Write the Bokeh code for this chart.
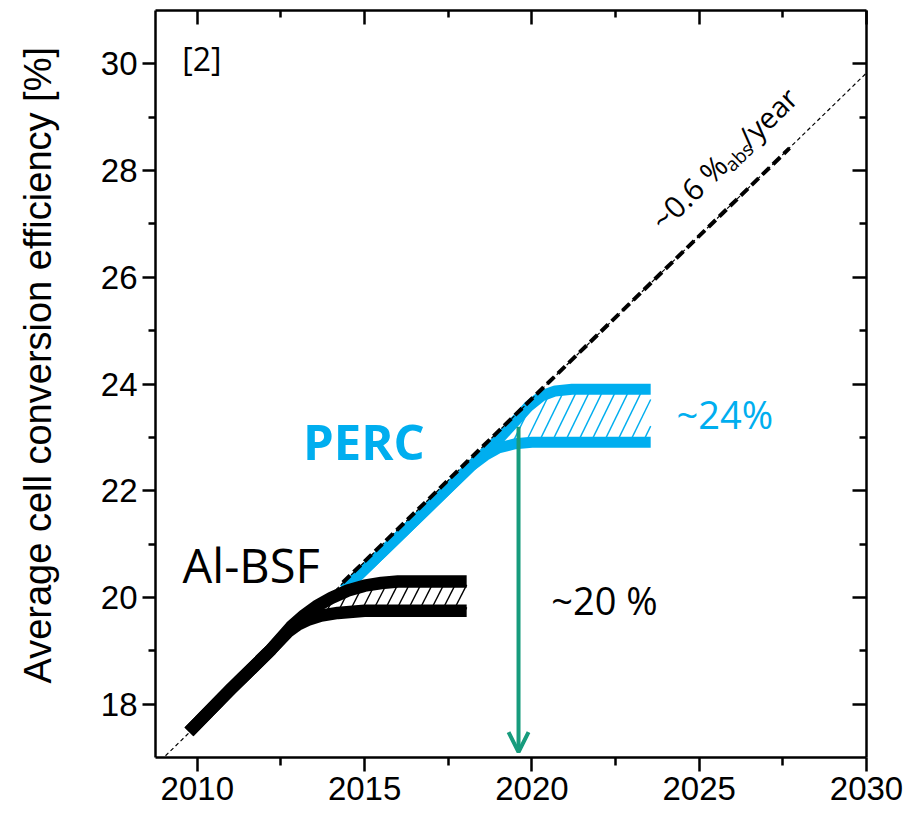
import numpy as np
from bokeh.plotting import figure
from bokeh.models import Range1d, FixedTicker, LinearAxis, Label, Arrow, OpenHead, Title
from bokeh.embed import file_html
from bokeh.resources import INLINE

# ---------------- data ----------------
x_ticks = [2010, 2015, 2020, 2025, 2030]
x_minor = [2012.5, 2017.5, 2022.5, 2027.5]
y_ticks = [18, 20, 22, 24, 26, 28, 30]
y_minor = [19, 21, 23, 25, 27, 29]

trend_years = [2008.75, 2030.0]
trend_values = [16.85, 29.83]
trend_bold_years = [2014.35, 2027.7]
trend_bold_values = [20.28, 28.42]

bsf_upper_years = [2009.75, 2011.0, 2012.2, 2012.8, 2013.2, 2013.6, 2014.0, 2014.5, 2015.0, 2015.5, 2016.0, 2018.05]
bsf_upper_values = [17.48, 18.28, 19.02, 19.45, 19.67, 19.85, 19.99, 20.13, 20.22, 20.27, 20.30, 20.30]
bsf_lower_years = [2009.75, 2011.0, 2012.2, 2012.7, 2013.0, 2013.3, 2013.7, 2014.2, 2015.0, 2018.05]
bsf_lower_values = [17.48, 18.28, 19.02, 19.35, 19.49, 19.58, 19.66, 19.71, 19.75, 19.75]

perc_upper_years = [2014.38, 2016.0, 2018.0, 2019.0, 2019.5, 2019.9, 2020.3, 2020.7, 2021.2, 2023.55]
perc_upper_values = [20.15, 21.13, 22.35, 22.96, 23.30, 23.58, 23.78, 23.87, 23.90, 23.90]
perc_lower_years = [2014.38, 2016.0, 2017.5, 2018.2, 2018.6, 2019.0, 2019.5, 2020.0, 2023.55]
perc_lower_values = [20.15, 21.13, 22.05, 22.47, 22.66, 22.80, 22.88, 22.91, 22.91]

arrow_year = 2019.6
arrow_from = 23.2
arrow_to = 17.1

BLUE = "#00AEEF"
GREEN = "#179C7D"

# ---------------- figure ----------------
W, H = 907, 813
ML, MR, MT, MB = 155, 41, 10, 56
X0, X1, Y0, Y1 = 2008.75, 2030.0, 17.0, 31.0
FW, FH = W - ML - MR, H - MT - MB
PX_YEAR = FW / (X1 - X0)
PX_UNIT = FH / (Y1 - Y0)

p = figure(width=W, height=H, output_backend="svg", toolbar_location=None,
           x_range=Range1d(X0, X1), y_range=Range1d(Y0, Y1),
           min_border_left=ML, min_border_right=MR, min_border_top=MT, min_border_bottom=MB)
p.outline_line_color = None
p.xgrid.visible = False
p.ygrid.visible = False
p.background_fill_color = "white"
p.border_fill_color = "white"

TICK_FONT = "Liberation Sans"


def style_axis(ax, tin, tout, mtin, mtout, labels=True):
    ax.axis_line_width = 2.5
    ax.axis_line_color = "black"
    ax.major_tick_line_width = 2.5
    ax.minor_tick_line_width = 2.5
    ax.major_tick_line_color = "black"
    ax.minor_tick_line_color = "black"
    ax.major_tick_in = tin
    ax.major_tick_out = tout
    ax.minor_tick_in = mtin
    ax.minor_tick_out = mtout
    if labels:
        ax.major_label_text_font = TICK_FONT
        ax.major_label_text_font_size = "33px"
        ax.major_label_text_color = "black"
    else:
        ax.major_label_text_font_size = "1px"
        ax.major_label_text_color = None
        ax.major_label_standoff = 0


p.xaxis.ticker = FixedTicker(ticks=x_ticks, minor_ticks=x_minor)
p.yaxis.ticker = FixedTicker(ticks=y_ticks, minor_ticks=y_minor)
style_axis(p.xaxis[0], 0, 14, 0, 8)
style_axis(p.yaxis[0], 0, 13, 0, 7)
p.xaxis[0].major_label_standoff = 5
p.yaxis[0].major_label_standoff = 5

# invisible spacer between the y tick labels and the y title
spacer = LinearAxis(ticker=FixedTicker(ticks=y_ticks, minor_ticks=[]))
style_axis(spacer, 0, 39, 0, 0, labels=False)
spacer.axis_line_color = None
spacer.major_tick_line_color = None
spacer.minor_tick_line_color = None
p.add_layout(spacer, "left")

# y-axis title as a left-side Title (allows placing it like the reference)
p.add_layout(Title(text="Average cell conversion efficiency [%]", align="left", offset=74,
                   standoff=0, text_font=TICK_FONT, text_font_size="38px",
                   text_font_style="normal", text_color="black"), "left")

top = LinearAxis(ticker=FixedTicker(ticks=x_ticks, minor_ticks=x_minor))
style_axis(top, 14, 0, 7, 0, labels=False)
p.add_layout(top, "above")
right = LinearAxis(ticker=FixedTicker(ticks=y_ticks, minor_ticks=y_minor))
style_axis(right, 14, 0, 7, 0, labels=False)
p.add_layout(right, "right")


# ---------------- hatch helper ----------------
def hatch(xs_lo, ys_lo, xs_up, ys_up, x_end, spacing_px, angle_deg):
    k = (PX_UNIT / np.tan(np.radians(angle_deg))) / PX_YEAR
    grid = np.linspace(min(xs_lo[0], xs_up[0]), x_end, 4000)
    lo = np.interp(grid, xs_lo, ys_lo)
    up = np.interp(grid, xs_up, ys_up)
    yref = ys_lo[-1]
    step = spacing_px / PX_YEAR
    x0s = np.arange(grid[0], x_end + k * (max(ys_up) - yref) + step, step)
    sx0, sy0, sx1, sy1 = [], [], [], []
    for x0 in x0s:
        g_lo = grid - x0 - k * (lo - yref)
        g_up = grid - x0 - k * (up - yref)
        if g_lo[0] > 0 or g_up[0] > 0:
            continue
        if g_lo[-1] < 0:
            continue
        xl = np.interp(0.0, g_lo, grid)
        yl = yref + (xl - x0) / k
        xu = x_end if g_up[-1] < 0 else np.interp(0.0, g_up, grid)
        xu = min(xu, x_end)
        yu = yref + (xu - x0) / k
        if yu - yl < 0.02:
            continue
        sx0.append(xl); sy0.append(yl); sx1.append(xu); sy1.append(yu)
    return sx0, sy0, sx1, sy1


# PERC band
hx0, hy0, hx1, hy1 = hatch(perc_lower_years, perc_lower_values, perc_upper_years, perc_upper_values,
                           perc_upper_years[-1], 13, 64)
p.segment(hx0, hy0, hx1, hy1, line_color=BLUE, line_width=1.4)
p.line(perc_upper_years, perc_upper_values, line_color=BLUE, line_width=11, line_join="round", line_cap="butt")
p.line(perc_lower_years, perc_lower_values, line_color=BLUE, line_width=11, line_join="round", line_cap="butt")

# Al-BSF band
bx0, by0, bx1, by1 = hatch(bsf_lower_years, bsf_lower_values, bsf_upper_years, bsf_upper_values,
                           bsf_upper_years[-1], 11.5, 63)
p.segment(bx0, by0, bx1, by1, line_color="black", line_width=1.4)
p.line(bsf_upper_years, bsf_upper_values, line_color="black", line_width=12.5, line_join="round", line_cap="butt")
p.line(bsf_lower_years, bsf_lower_values, line_color="black", line_width=12.5, line_join="round", line_cap="butt")

# trend lines
p.line(trend_years, trend_values, line_color="black", line_width=1.2, line_dash="4 3")
p.line(trend_bold_years, trend_bold_values, line_color="black", line_width=4, line_dash="10 5")

# arrow
p.add_layout(Arrow(end=OpenHead(size=20, line_color=GREEN, line_width=4),
                   x_start=arrow_year, y_start=arrow_from, x_end=arrow_year, y_end=arrow_to,
                   line_color=GREEN, line_width=4))

# ---------------- texts ----------------
TF = "Open Sans"
BASE_FIX = 0.4  # baseline correction, in em


def lab(x, y, text, fs, color="black", style="normal", angle=0.0, along=0.0, perp=0.0):
    c, s = np.cos(angle), np.sin(angle)
    pp = perp + BASE_FIX * fs
    xo = along * c - pp * s
    yo = along * s + pp * c
    p.add_layout(Label(x=x, y=y, text=text, text_font=TF, text_font_size=f"{fs}px",
                       text_color=color, text_font_style=style, angle=angle,
                       x_offset=xo, y_offset=yo,
                       text_align="left", text_baseline="alphabetic"))


lab(2009.55, 29.86, "[2]", 32)
lab(2009.56, 20.25, "Al-BSF", 47)
lab(2013.16, 22.56, "PERC", 49, color=BLUE, style="bold")
lab(2024.32, 23.16, "~24%", 38, color=BLUE)
lab(2020.58, 19.66, "~20 %", 38)

# rotated slope annotation
ang = float(np.arctan((trend_values[1] - trend_values[0]) / (trend_years[1] - trend_years[0]) * PX_UNIT / PX_YEAR))
ax_, ay_ = 2023.96, 26.83
lab(ax_, ay_, "~0.6 %", 30, angle=ang)
lab(ax_, ay_, "abs", 19, angle=ang, along=91, perp=-5)
lab(ax_, ay_, "/year", 29, angle=ang, along=120)

open("out.html", "w").write(file_html(p, INLINE))
